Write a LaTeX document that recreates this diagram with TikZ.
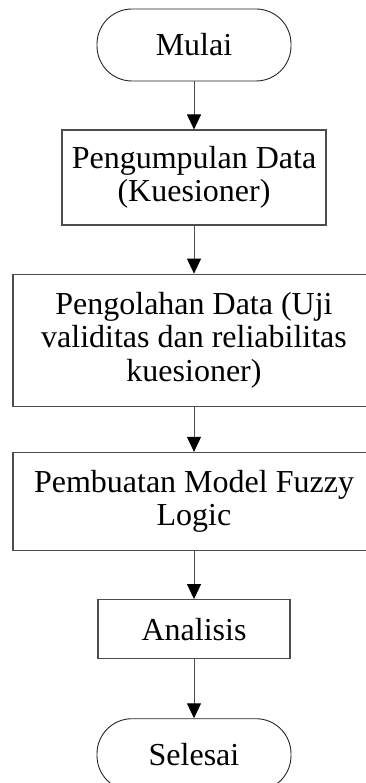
\documentclass[tikz,border=0pt]{standalone}
\usepackage{fontspec}
\setmainfont{Liberation Serif}
\usetikzlibrary{shapes,arrows.meta,positioning}

\tikzset{
    terminal/.style={draw=black!85, line width=0.9pt, rounded corners=35pt,
        minimum width=194pt, minimum height=72pt,
        font=\fontsize{32}{33.5}\selectfont},
    process/.style={draw=black!70, line width=1.2pt, align=center, inner sep=0pt,
        font=\fontsize{32}{33.5}\selectfont},
    flow/.style={draw=black!70, line width=1pt,
        -{Triangle[width=14pt,length=15pt,black]}}
}

\begin{document}
\begin{tikzpicture}[x=1pt,y=1pt]
    \useasboundingbox (0,0) rectangle (365,-783);

    % Draw the steps
    \node [terminal] (mulai) at (194,-45) {Mulai};
    \node [process, minimum width=264pt, minimum height=95pt, below=48pt of mulai]
        (kumpul) {Pengumpulan Data\\(Kuesioner)};
    \node [process, minimum width=362pt, minimum height=132pt, below=48pt of kumpul]
        (olah) {Pengolahan Data (Uji\\validitas dan reliabilitas\\kuesioner)};
    \node [process, minimum width=362pt, minimum height=98pt, below=45pt of olah]
        (model) {Pembuatan Model Fuzzy\\Logic};
    \node [process, minimum width=192pt, minimum height=59pt, below=48pt of model]
        (analisis) {Analisis};
    \node [terminal, below=59pt of analisis] (selesai) {Selesai};

    % Draw the arrows between steps
    \draw [flow] (mulai) -- (kumpul);
    \draw [flow] (kumpul) -- (olah);
    \draw [flow] (olah) -- (model);
    \draw [flow] (model) -- (analisis);
    \draw [flow] (analisis) -- (selesai);

\end{tikzpicture}
\end{document}
